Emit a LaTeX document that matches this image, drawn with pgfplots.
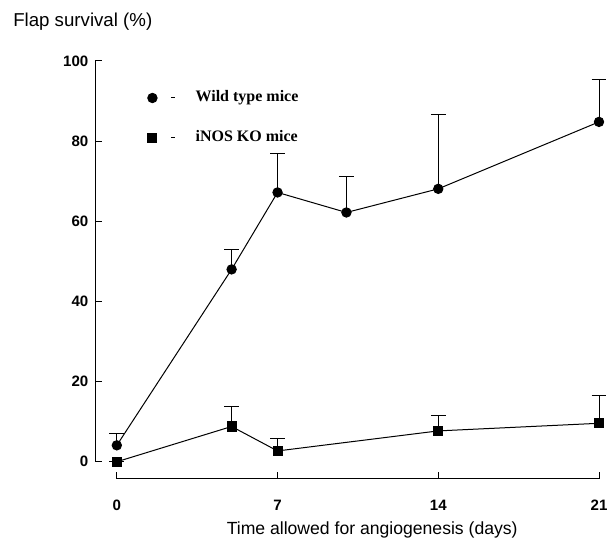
\documentclass[border=0pt]{standalone}
\usepackage{fontspec}
\setmainfont{Liberation Sans}
\newfontfamily\legfont{Liberation Serif}
\usepackage{pgfplots}
\pgfplotsset{compat=1.18}

\pgfplotstableread{
x y e
0 4.1 2.9
5 48.0 5.0
7 67.2 9.8
10 62.2 8.9
14 68.1 18.6
21 84.8 10.7
}\wildtype

\pgfplotstableread{
x y e
0 0.0 0.0
5 8.8 5.0
7 2.7 3.0
14 7.7 3.8
21 9.6 6.9
}\inosko

\begin{document}
\begin{tikzpicture}
\begin{axis}[
    scale only axis,
    width=378pt, height=313.5pt,
    xmin=-0.95, xmax=21, ymin=-4.3, ymax=100,
    axis lines*=left,
    axis line style={draw=none},
    xtick={0,7,14,21},
    ytick={0,20,40,60,80,100},
    tick align=inside,
    major tick length=5.5pt,
    tick style={black, line width=0.75pt},
    /pgf/number format/assume math mode=true,
    ticklabel style={font=\fontsize{11.3}{13}\selectfont\bfseries},
    xticklabel style={yshift=-12.25pt},
    yticklabel style={xshift=-1.5pt},
    xlabel={Time allowed for angiogenesis (days)},
    xlabel style={at={(axis description cs:0.55,0)}, anchor=center, yshift=-38pt,
        font=\fontsize{13.2}{15}\selectfont},
    clip=false,
    legend cell align=left,
    legend style={draw=none, fill=none, inner sep=0pt,
        at={(axis cs:1.54,91)}, anchor=north west, xshift=-3.5pt, yshift=5pt,
        row sep=19pt, column sep=15pt,
        nodes={inner sep=0pt, text height=8.5pt, text depth=2.5pt},
        font=\legfont\bfseries\fontsize{12}{14}\selectfont},
    legend image code/.code={
        \draw[#1] plot coordinates {(0pt,0pt)};
        \draw[black, line width=0.75pt] (14pt,0pt) -- (17pt,0pt);
    },
]
\addplot[black, line width=0.75pt, mark=*, mark size=3.5pt,
    mark options={solid, fill=black},
    error bars/.cd, y dir=plus, y explicit,
    error bar style={line width=0.75pt},
    error mark options={rotate=90, line width=0.75pt, mark size=5.6pt}]
    table[x=x, y=y, y error=e] {\wildtype};
\addlegendentry{Wild type mice}
\addplot[black, line width=0.75pt, mark=square*, mark size=3.4pt,
    mark options={solid, fill=black},
    error bars/.cd, y dir=plus, y explicit,
    error bar style={line width=0.75pt},
    error mark options={rotate=90, line width=0.75pt, mark size=5.6pt}]
    table[x=x, y=y, y error=e] {\inosko};
\addlegendentry{iNOS KO mice}
\draw[black, line width=0.75pt] (axis cs:-0.95,0) -- (axis cs:-0.95,100);
\draw[black, line width=0.75pt] (axis cs:0,-4.3) -- (axis cs:21,-4.3);
\coordinate (ll) at (rel axis cs:0,0);
\coordinate (ur) at (rel axis cs:1,1);
\coordinate (tl) at (rel axis cs:0,1);
\end{axis}
\node[anchor=base west, font=\fontsize{14}{16}\selectfont, inner sep=0pt]
    at ([xshift=-61.5pt, yshift=25.5pt]tl) {Flap survival (\%)};
\pgfresetboundingbox
\path ([xshift=-71.25pt, yshift=-44.25pt]ll) rectangle ([xshift=6pt, yshift=45.75pt]ur);
\end{tikzpicture}
\end{document}
